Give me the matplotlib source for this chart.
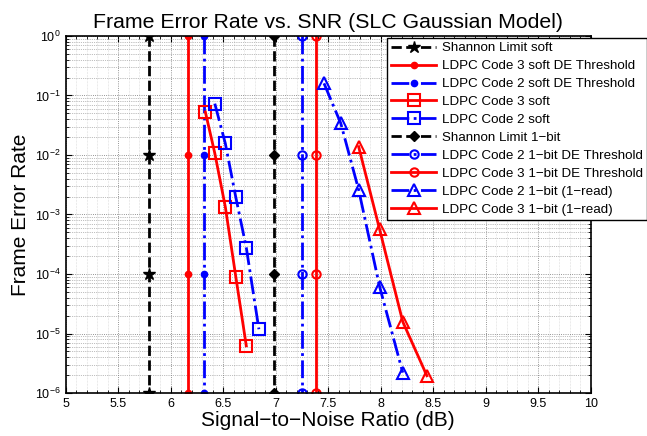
import numpy as np
import matplotlib
matplotlib.use("Agg")
import matplotlib.pyplot as plt
from matplotlib.ticker import MultipleLocator, LogLocator

plt.rcParams['font.family'] = ['Liberation Sans', 'DejaVu Sans']

# thresholds (dB), drawn as vertical lines with markers at each decade
thr_y = [1e0, 1e-2, 1e-4, 1e-6]
shannon_soft = 5.79
code3_soft_de = 6.16
code2_soft_de = 6.32
shannon_1bit = 6.98
code2_1bit_de = 7.25
code3_1bit_de = 7.38

# simulated curves
code3_soft_x = [6.33, 6.42, 6.52, 6.62, 6.72]
code3_soft_y = [5.3e-2, 1.07e-2, 1.35e-3, 9.0e-5, 6.2e-6]
code2_soft_x = [6.42, 6.52, 6.62, 6.72, 6.84]
code2_soft_y = [7.3e-2, 1.57e-2, 1.95e-3, 2.77e-4, 1.18e-5]
code2_1read_x = [7.46, 7.62, 7.79, 7.99, 8.21]
code2_1read_y = [1.6e-1, 3.4e-2, 2.6e-3, 6.1e-5, 2.2e-6]
code3_1read_x = [7.79, 7.99, 8.21, 8.44]
code3_1read_y = [1.38e-2, 5.6e-4, 1.58e-5, 1.95e-6]

fig = plt.figure(figsize=(6.47, 4.36), dpi=100)
ax = fig.add_axes([65.7 / 647, 1 - 393 / 436, 525 / 647, 357 / 436])

lw = 2
ax.semilogy([shannon_soft] * 4, thr_y, 'k--', marker='*', ms=9, lw=lw,
            label='Shannon Limit soft')
ax.semilogy([code3_soft_de] * 4, thr_y, 'r-', marker='.', ms=9, lw=lw,
            label='LDPC Code 3 soft DE Threshold')
ax.semilogy([code2_soft_de] * 4, thr_y, 'b-.', marker='.', ms=9, lw=lw,
            label='LDPC Code 2 soft DE Threshold')
ax.semilogy(code3_soft_x, code3_soft_y, 'r-', marker='s', ms=8, mfc='none',
            mew=1.5, lw=lw, label='LDPC Code 3 soft')
ax.semilogy(code2_soft_x, code2_soft_y, 'b-.', marker='s', ms=8, mfc='none',
            mew=1.5, lw=lw, label='LDPC Code 2 soft')
ax.semilogy([shannon_1bit] * 4, thr_y, 'k--', marker='D', ms=5, lw=lw,
            label='Shannon Limit 1\u2212bit')
ax.semilogy([code2_1bit_de] * 4, thr_y, 'b-.', marker='o', ms=6, mfc='none',
            mew=1.5, lw=lw, label='LDPC Code 2 1\u2212bit DE Threshold')
ax.semilogy([code3_1bit_de] * 4, thr_y, 'r-', marker='o', ms=6, mfc='none',
            mew=1.5, lw=lw, label='LDPC Code 3 1\u2212bit DE Threshold')
ax.semilogy(code2_1read_x, code2_1read_y, 'b-.', marker='^', ms=9, mfc='none',
            mew=1.5, lw=lw, label='LDPC Code 2 1\u2212bit (1\u2212read)')
ax.semilogy(code3_1read_x, code3_1read_y, 'r-', marker='^', ms=9, mfc='none',
            mew=1.5, lw=lw, label='LDPC Code 3 1\u2212bit (1\u2212read)')

ax.set_xlim(5, 10)
ax.set_ylim(1e-6, 1e0)
ax.xaxis.set_minor_locator(MultipleLocator(0.1))
ax.yaxis.set_major_locator(LogLocator(base=10, numticks=10))
ax.yaxis.set_minor_locator(LogLocator(base=10, subs=np.arange(2, 10), numticks=10))
ax.set_xticks([5, 5.5, 6, 6.5, 7, 7.5, 8, 8.5, 9, 9.5, 10])
ax.set_xticklabels(['5', '5.5', '6', '6.5', '7', '7.5', '8', '8.5', '9', '9.5', '10'])

ax.grid(True, which='major', color='0.45', ls=':', lw=0.6)
ax.grid(True, which='minor', axis='y', color='0.5', ls=':', lw=0.5)
ax.grid(True, which='minor', axis='x', color='0.75', ls=':', lw=0.4)
ax.tick_params(which='both', direction='in', top=True, right=True, labelsize=9)
ax.tick_params(which='major', length=4)
ax.tick_params(which='minor', length=2)
for s in ax.spines.values():
    s.set_linewidth(1.2)

ax.set_title('Frame Error Rate vs. SNR (SLC Gaussian Model)', fontsize=15.3, pad=6)
ax.set_xlabel('Signal\u2212to\u2212Noise Ratio (dB)', fontsize=15, labelpad=0.5)
ax.set_ylabel('Frame Error Rate', fontsize=15, labelpad=4)

leg = ax.legend(loc='upper left', bbox_to_anchor=(387 / 647, 1 - 38 / 436),
                bbox_transform=fig.transFigure, fontsize=9.6, handlelength=3.4,
                labelspacing=0.42, borderpad=0.3, handletextpad=0.4,
                fancybox=False, framealpha=1, edgecolor='k', borderaxespad=0)
leg.get_frame().set_linewidth(1.0)

fig.savefig('out.png', dpi=100)
